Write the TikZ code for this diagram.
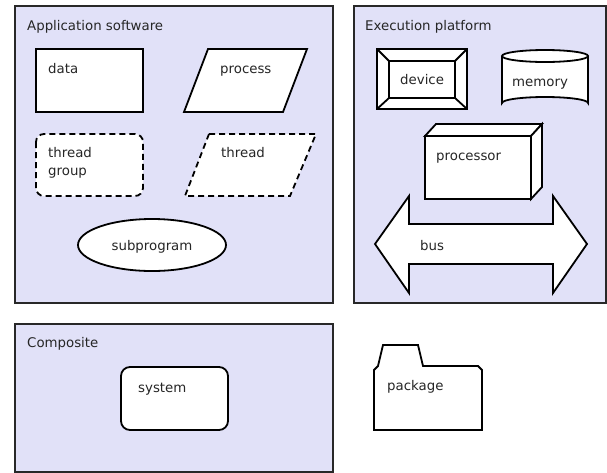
\documentclass[tikz,border=0pt]{standalone}
\usepackage{fontspec}
\setmainfont{DejaVu Sans}
\definecolor{lav}{RGB}{225,225,248}
\definecolor{frame}{RGB}{40,40,40}
\begin{document}
\begin{tikzpicture}[x=1pt,y=-1pt,
  panel/.style={draw=frame,line width=1.5pt,fill=lav},
  shp/.style={draw=black,line width=1.8pt,fill=white,line join=miter},
  dashshp/.style={shp,dash pattern=on 6pt off 4pt},
  lbl/.style={anchor=base west,inner sep=0pt,font=\fontsize{13.33}{17.5}\selectfont,text=black!85}]
\useasboundingbox (0,0) rectangle (607,472);
% panels
\draw[panel] (15,6) rectangle (333,303);
\draw[panel] (354,6) rectangle (606,303);
\draw[panel] (15,324) rectangle (333,472);
\node[lbl] (tapp) at (27,30) {Application software};
\node[lbl] (texe) at (365,30) {Execution platform};
\node[lbl] (tcomp) at (27,347) {Composite};
% data
\draw[shp] (36,49) rectangle (143,112);
\node[lbl] (tdata) at (48,73) {data};
% process
\draw[shp] (208,49) -- (307,49) -- (283,112) -- (184,112) -- cycle;
\node[lbl] (tproc) at (220,73) {process};
% thread group
\draw[dashshp,rounded corners=8pt] (36,134) rectangle (143,196);
\node[lbl,align=left] (ttg) at (48,175) {thread\\group};
% thread
\draw[dashshp] (209,134) -- (316,134) -- (290,196) -- (185,196) -- cycle;
\node[lbl] (tthr) at (221,157.5) {thread};
% subprogram
\draw[shp] (152,245) ellipse [x radius=74, y radius=26];
\node[lbl,anchor=base] (tsub) at (152,250) {subprogram};
% device
\draw[shp] (377,49) rectangle (467,109);
\draw[shp] (389,61) rectangle (455,98);
\draw[line width=1.8pt] (377,49) -- (389,61) (467,49) -- (455,61) (377,109) -- (389,98) (467,109) -- (455,98);
\node[lbl] (tdev) at (400,84) {device};
% memory
\draw[shp] (502,56) -- (502,103) arc[start angle=180,end angle=360,x radius=43,y radius=6] -- (588,56);
\draw[shp] (545,56) ellipse [x radius=43, y radius=6];
\node[lbl] (tmem) at (512,86) {memory};
% processor
\draw[shp] (425,136) rectangle (531,199);
\draw[shp] (425,136) -- (436,124) -- (542,124) -- (531,136) -- cycle;
\draw[shp] (531,136) -- (542,124) -- (542,187) -- (531,199) -- cycle;
\node[lbl] (tcpu) at (436,160) {processor};
% bus
\draw[shp] (375,244) -- (409,196) -- (409,224) -- (553,224) -- (553,196) -- (587,244)
  -- (553,293) -- (553,264) -- (409,264) -- (409,293) -- cycle;
\node[lbl] (tbus) at (420,250) {bus};
% system
\draw[shp,rounded corners=9pt] (121,367) rectangle (228,430);
\node[lbl] (tsys) at (138,392) {system};
% package
\draw[shp] (374,370) -- (378,366) -- (383,345) -- (418,345) -- (423,366) -- (478,366) -- (482,370) -- (482,430) -- (374,430) -- cycle;
\node[lbl] (tpkg) at (387,390) {package};
\end{tikzpicture}
\end{document}
